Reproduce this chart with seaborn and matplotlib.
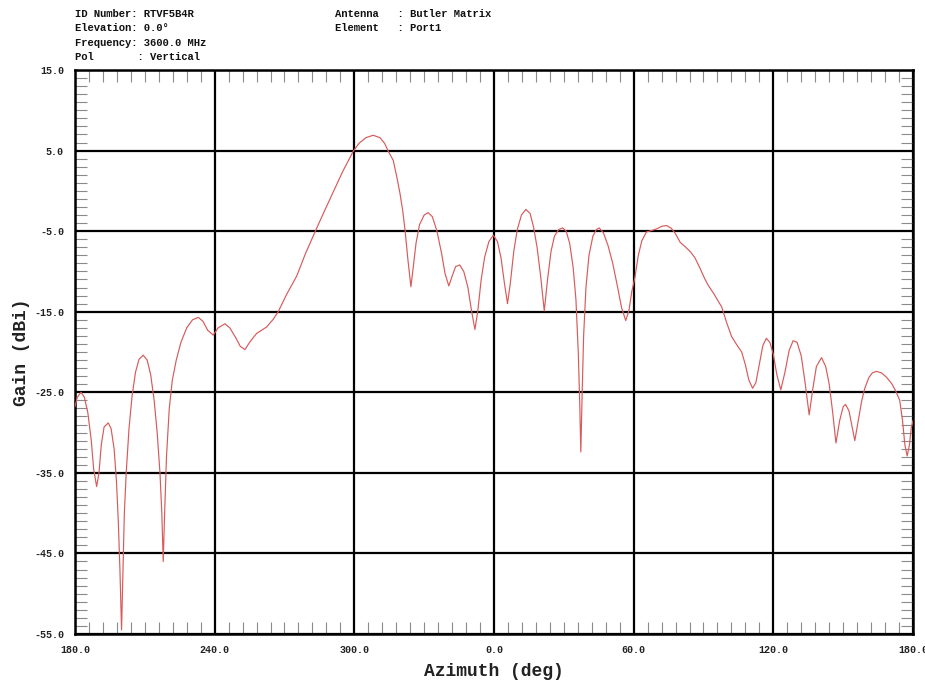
import matplotlib
matplotlib.use("Agg")
import matplotlib.pyplot as plt
from matplotlib.ticker import MultipleLocator
import seaborn as sns
import pandas as pd

# Azimuth in unwrapped degrees (180 .. 540 -> displayed as 180, 240, 300, 0, 60, 120, 180)
azimuth = [
    180.0, 181.0, 182.6, 184.0, 185.5, 187.0, 188.0, 189.3, 190.3, 191.3, 192.5, 194.3,
    195.5, 196.8, 197.8, 198.6, 199.3, 200.0, 200.6, 201.2, 202.0, 203.2, 204.5, 206.0,
    207.5, 209.3, 211.0, 212.5, 214.0, 215.3, 216.5, 217.3, 217.9, 218.5, 219.3, 220.5,
    221.8, 223.5, 225.5, 228.0, 230.5, 233.0, 235.0, 237.0, 239.4, 241.5, 244.4, 246.5,
    249.0, 251.0, 253.0, 255.0, 258.0, 262.3, 265.0, 267.3, 271.0, 275.2, 279.0, 283.1,
    287.0, 291.0, 295.0, 299.5, 302.0, 305.0, 308.1, 311.0, 313.0, 314.6, 316.7, 318.2,
    319.6, 320.8, 321.8, 323.0, 324.3, 325.3, 326.5, 328.0, 330.0, 331.7, 333.5, 335.5,
    337.5, 339.0, 340.6, 342.0, 343.5, 345.3, 347.0, 348.8, 350.3, 351.8, 353.0, 354.5,
    356.0, 357.8, 359.7, 361.5, 363.0, 364.5, 365.8, 367.0, 368.5, 370.0, 371.8, 373.7,
    375.5, 377.0, 378.5, 380.0, 381.6, 383.0, 384.5, 386.0, 387.8, 389.5, 391.0, 392.5,
    394.0, 395.2, 396.2, 396.8, 397.3, 397.8, 398.5, 399.5, 400.8, 402.5, 404.0, 405.2,
    407.0, 409.0, 411.0, 413.0, 414.8, 416.6, 418.0, 419.2, 420.5, 422.0, 423.5, 425.5,
    428.0, 430.0, 432.0, 434.1, 436.0, 437.7, 440.0, 442.0, 444.5, 446.3, 448.5, 450.5,
    452.0, 454.5, 457.8, 460.0, 462.1, 464.5, 466.4, 468.0, 469.5, 471.1, 472.5, 474.0,
    475.5, 477.0, 478.5, 480.0, 481.5, 483.2, 485.0, 486.8, 488.5, 490.2, 492.0, 493.5,
    495.4, 497.0, 498.5, 500.7, 502.5, 504.0, 505.5, 506.9, 508.5, 510.0, 511.0, 512.5,
    514.0, 515.0, 516.5, 518.0, 519.3, 521.0, 522.5, 524.3, 526.5, 528.5, 530.8, 532.5,
    534.3, 535.5, 536.5, 537.5, 538.5, 539.2, 540.0,
]
gain = [
    -26.8, -25.6, -25.0, -25.6, -27.5, -31.0, -34.5, -36.7, -35.0, -31.5, -29.3, -28.8,
    -29.5, -32.0, -36.0, -41.0, -47.0, -54.5, -47.0, -40.0, -35.0, -29.5, -25.5, -22.5,
    -20.9, -20.4, -21.0, -22.8, -26.0, -30.0, -35.0, -40.0, -46.0, -40.0, -33.0, -27.0,
    -23.5, -21.0, -18.8, -17.0, -16.0, -15.7, -16.2, -17.3, -17.9, -17.0, -16.5, -17.0,
    -18.2, -19.3, -19.7, -18.8, -17.7, -16.9, -16.0, -15.0, -12.8, -10.6, -7.8, -5.1,
    -2.6, -0.1, 2.4, 4.9, 5.9, 6.6, 6.9, 6.6, 5.9, 4.9, 3.8, 1.8,
    -0.3, -2.5, -4.9, -8.5, -11.9, -9.5, -6.5, -4.2, -3.0, -2.7, -3.2, -5.0,
    -7.8, -10.3, -11.8, -10.6, -9.4, -9.2, -10.0, -12.0, -14.8, -17.2, -15.0, -11.0,
    -8.2, -6.3, -5.5, -6.3, -8.3, -11.5, -14.0, -11.5, -7.5, -4.8, -3.0, -2.3,
    -2.8, -4.5, -7.0, -10.5, -14.9, -11.0, -7.5, -5.6, -4.8, -4.6, -5.0, -6.5,
    -9.5, -13.5, -20.0, -26.0, -32.4, -26.0, -18.0, -12.0, -8.0, -5.6, -4.8, -4.6,
    -5.2, -6.8, -9.0, -11.8, -14.5, -16.1, -14.8, -12.5, -10.8, -8.0, -6.2, -5.1,
    -4.9, -4.7, -4.4, -4.3, -4.6, -5.2, -6.4, -6.9, -7.6, -8.3, -9.6, -10.9,
    -11.7, -12.8, -14.4, -16.4, -18.1, -19.2, -20.0, -21.6, -23.5, -24.5, -23.8, -21.5,
    -19.2, -18.3, -18.8, -20.3, -22.8, -24.7, -22.5, -19.8, -18.6, -18.8, -20.5, -23.5,
    -27.8, -24.5, -21.8, -20.7, -21.8, -24.0, -27.5, -31.3, -28.5, -26.8, -26.5, -27.3,
    -29.5, -31.0, -28.5, -26.0, -24.5, -23.2, -22.6, -22.4, -22.6, -23.1, -23.9, -24.8,
    -26.0, -28.5, -31.5, -32.9, -31.5, -29.5, -28.5,
]

x_ticks = [180, 240, 300, 360, 420, 480, 540]
x_tick_labels = ["180.0", "240.0", "300.0", "0.0", "60.0", "120.0", "180.0"]
y_ticks = [15, 5, -5, -15, -25, -35, -45, -55]
y_tick_labels = ["15.0", "5.0", "-5.0", "-15.0", "-25.0", "-35.0", "-45.0", "-55.0"]

header_left = ["ID Number: RTVF5B4R", "Elevation: 0.0\u00b0", "Frequency: 3600.0 MHz", "Pol       : Vertical"]
header_right = ["Antenna   : Butler Matrix", "Element   : Port1"]

sns.set_theme(style="white")
plt.rcParams["font.family"] = ["Liberation Mono", "DejaVu Sans Mono"]

W, H = 925, 686
fig = plt.figure(figsize=(W / 100, H / 100), dpi=100)
ax = fig.add_axes([75 / W, 1 - 634 / H, (913 - 75) / W, (634 - 70) / H])

df = pd.DataFrame({"az": azimuth, "gain": gain})
sns.lineplot(data=df, x="az", y="gain", sort=False, estimator=None, ax=ax,
             color="#d85a5a", linewidth=0.85, zorder=3)

ax.set_xlim(180, 540)
ax.set_ylim(-55, 15)
ax.set_xticks(x_ticks)
ax.set_xticklabels(x_tick_labels)
ax.set_yticks(y_ticks)
ax.set_yticklabels(y_tick_labels)
ax.xaxis.set_minor_locator(MultipleLocator(6))
ax.yaxis.set_minor_locator(MultipleLocator(1))

ax.grid(True, which="major", color="black", linewidth=1.6, zorder=1)
ax.set_axisbelow(True)
for s in ax.spines.values():
    s.set_visible(True)
    s.set_color("black")
    s.set_linewidth(1.8)

ax.tick_params(which="major", length=0, pad=8, labelsize=7.2, colors="black")
ax.tick_params(which="minor", direction="in", length=8.5, width=0.8, color="#8a8a8a",
               top=True, bottom=True, left=True, right=True)
for lab in ax.get_xticklabels() + ax.get_yticklabels():
    lab.set_fontweight("bold")
    lab.set_color("#222222")

ax.set_xlabel("Azimuth (deg)", fontsize=13, fontweight="bold", labelpad=6, color="#222222")
ax.set_ylabel("Gain (dBi)", fontsize=13, fontweight="bold", labelpad=3, color="#222222")

for i, t in enumerate(header_left):
    fig.text(75 / W, 1 - (14 + 14.3 * i) / H, t, fontsize=7.6, fontweight="bold",
             va="center", ha="left", color="#111111")
for i, t in enumerate(header_right):
    fig.text(335 / W, 1 - (14 + 14.3 * i) / H, t, fontsize=7.6, fontweight="bold",
             va="center", ha="left", color="#111111")

fig.savefig("out.png", dpi=100)
